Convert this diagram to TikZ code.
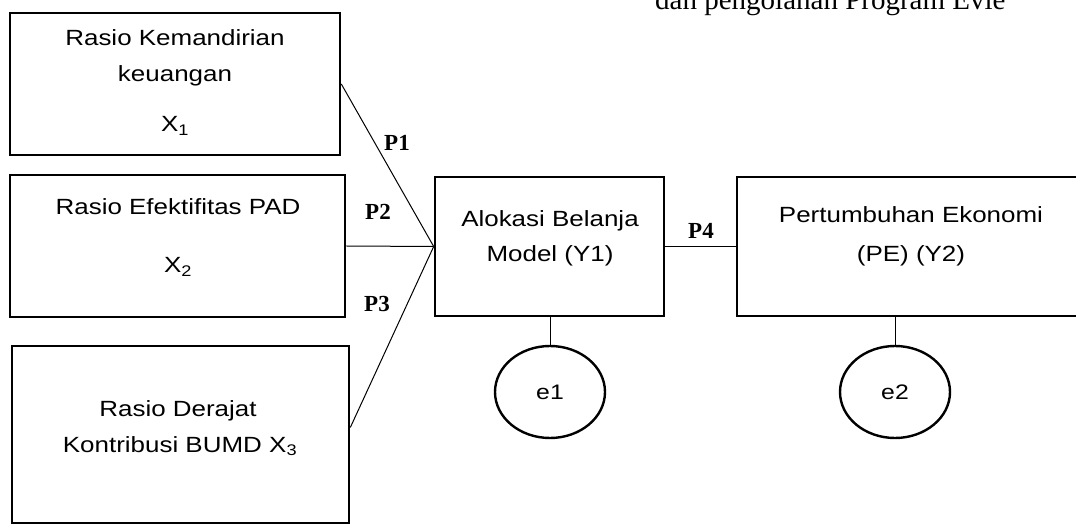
\documentclass[tikz,border=0pt]{standalone}
\usepackage{fontspec}
\setmainfont{Liberation Serif}
\newfontfamily\boxfont[FakeStretch=1.18]{Liberation Sans}
\usetikzlibrary{shapes.geometric}
\begin{document}
\begin{tikzpicture}[x=1pt,y=-1pt,
  box/.style={draw,line width=2.6pt,inner sep=0pt},
  txt/.style={font=\boxfont\fontsize{22}{26}\selectfont,anchor=base,inner sep=0pt},
  plabel/.style={font=\bfseries\fontsize{23}{27}\selectfont,inner sep=0pt},
  conn/.style={line width=1pt},
  errnode/.style={draw,ellipse,line width=2.4pt,minimum width=110pt,minimum height=92pt,inner sep=0pt,font=\boxfont\fontsize{21}{25}\selectfont}]
\useasboundingbox (0,0) rectangle (1076,526);
\clip (0,0) rectangle (1076,526);
% source note (cut at top)
\node[anchor=base west,inner sep=0pt,font=\fontsize{29}{34}\selectfont] (src) at (655,10) {dan pengolahan Program Evie};
% boxes
\node[box,minimum width=330pt,minimum height=142pt] (b1) at (175,84) {};
\node[box,minimum width=335pt,minimum height=142pt] (b2) at (177.5,246) {};
\node[box,minimum width=337pt,minimum height=177pt] (b3) at (180.5,434.5) {};
\node[box,minimum width=229pt,minimum height=139pt] (y1) at (549.5,246.5) {};
\node[box,minimum width=350pt,minimum height=139pt] (pe) at (912,246.5) {};
% texts
\node[txt] (t11) at (175,46) {Rasio Kemandirian};
\node[txt] (t12) at (175,82) {keuangan};
\node[txt] (t13) at (175,132) {X\textsubscript{1}};
\node[txt] (t21) at (178,215) {Rasio Efektifitas PAD};
\node[txt] (t22) at (178,273) {X\textsubscript{2}};
\node[txt] (t31) at (178,417) {Rasio Derajat};
\node[txt] (t32) at (180,452) {Kontribusi BUMD X\textsubscript{3}};
\node[txt] (ty1) at (550,227) {Alokasi Belanja};
\node[txt] (ty2) at (550,262) {Model (Y1)};
\node[txt] (tp1) at (911,223) {Pertumbuhan Ekonomi};
\node[txt] (tp2) at (911,262) {(PE) (Y2)};
% error terms
\node[errnode] (e1) at (550,392) {e1};
\node[errnode] (e2) at (895,392) {e2};
% connectors
\draw[conn] (b1.east) -- (y1.west);
\draw[conn] (b2.east) -- (y1.west);
\draw[conn] (y1.west) -- ([yshift=7pt]b3.east);
\draw[conn] (y1.east) -- (pe.west);
\draw[conn] (y1.south -| e1.north) -- (e1.north);
\draw[conn] (pe.south -| e2.north) -- (e2.north);
% path labels
\node[plabel] (p1) at (397,143) {P1};
\node[plabel] (p2) at (378,212) {P2};
\node[plabel] (p3) at (377,304) {P3};
\node[plabel] (p4) at (701,231) {P4};
\end{tikzpicture}
\end{document}
